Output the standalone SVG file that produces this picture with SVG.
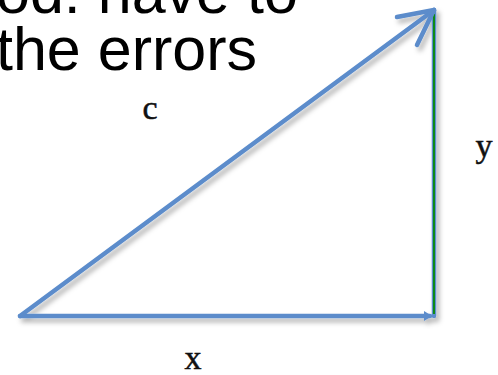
<svg xmlns="http://www.w3.org/2000/svg" width="498" height="375" viewBox="0 0 498 375">
<defs>
<style>
.title{font-family:"Liberation Sans",Arial,sans-serif;font-size:61px;fill:#000}
.lbl{font-family:"Liberation Serif","Times New Roman",serif;font-size:34px;fill:#111;stroke:#111;stroke-width:0.5;text-anchor:middle}
.vec{fill:none;stroke:#5b8ccb;stroke-width:4.5;stroke-linecap:round;stroke-linejoin:round}
.green{fill:none;stroke:#0b8a12;stroke-width:2}
</style>
<filter id="sh" x="-10%" y="-10%" width="130%" height="130%">
<feDropShadow dx="3" dy="4" stdDeviation="2.5" flood-color="#000" flood-opacity="0.3"/>
</filter>
</defs>
<rect width="498" height="375" fill="#fff"/>
<g id="title">
<text class="title" x="-4" y="13">od: have to</text>
<text class="title" x="-4" y="70">the errors</text>
</g>
<g id="connectors" filter="url(#sh)">
<g id="side-x">
<line class="vec" x1="20" y1="316" x2="430" y2="316"/>
<path d="M424,311 L432,316 L424,321 Z" fill="#5b8ccb"/>
</g>
<g id="side-y">
<line class="vec" x1="434" y1="10" x2="434" y2="316"/>
<line class="green" x1="434" y1="14" x2="434" y2="314"/>
</g>
<g id="side-c">
<line class="vec" x1="20" y1="316" x2="434" y2="10"/>
<polyline class="vec" points="397,17 434,10 417,45"/>
</g>
</g>
<g id="label-c"><text class="lbl" x="150" y="119">c</text></g>
<g id="label-y"><text class="lbl" x="484" y="157">y</text></g>
<g id="label-x"><text class="lbl" x="193" y="369">x</text></g>
</svg>
